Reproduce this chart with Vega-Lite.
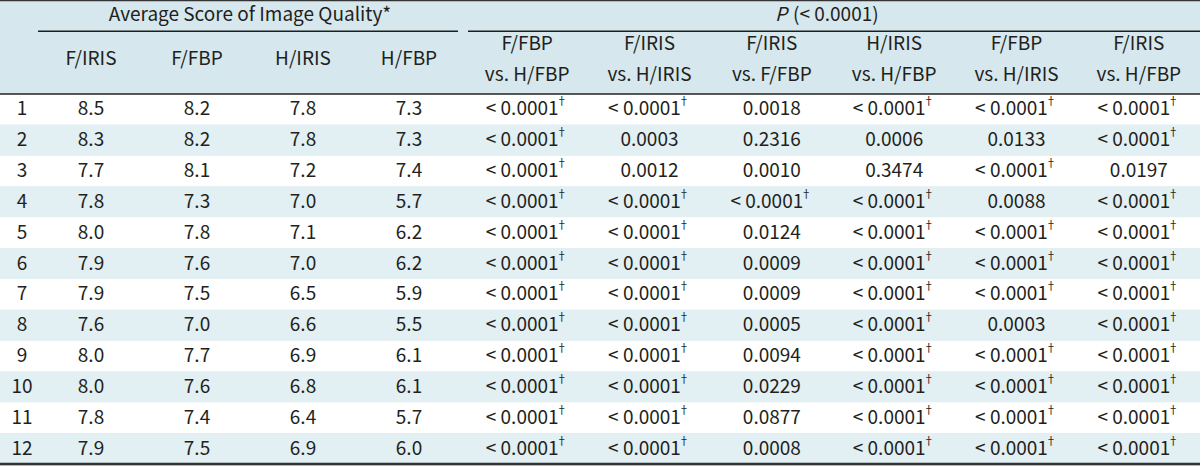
{
  "$schema": "https://vega.github.io/schema/vega-lite/v6.json",
  "width": 1200,
  "height": 466,
  "padding": 0,
  "autosize": {"type": "none"},
  "background": "#d6e8ee",
  "config": {
    "view": {"stroke": null},
    "axis": {"disable": true},
    "legend": {"disable": true},
    "text": {"font": "Noto Sans CJK KR", "fontSize": 19, "color": "#231f20", "baseline": "middle"}
  },
  "datasets": {
    "rows": [
      {"row": "1", "n": 1, "kind": "row"}, {"row": "2", "n": 2, "kind": "row"}, {"row": "3", "n": 3, "kind": "row"},
      {"row": "4", "n": 4, "kind": "row"}, {"row": "5", "n": 5, "kind": "row"}, {"row": "6", "n": 6, "kind": "row"},
      {"row": "7", "n": 7, "kind": "row"}, {"row": "8", "n": 8, "kind": "row"}, {"row": "9", "n": 9, "kind": "row"},
      {"row": "10", "n": 10, "kind": "row"}, {"row": "11", "n": 11, "kind": "row"}, {"row": "12", "n": 12, "kind": "row"}
    ],
    "scoreHeaders": [
      {"col": "F/IRIS", "line": "1", "block": "score"},
      {"col": "F/FBP", "line": "1", "block": "score"},
      {"col": "H/IRIS", "line": "1", "block": "score"},
      {"col": "H/FBP", "line": "1", "block": "score"}
    ],
    "pHeaders": [
      {"comp": "F/FBP vs. H/FBP", "line": "1", "text": "F/FBP", "block": "p"},
      {"comp": "F/FBP vs. H/FBP", "line": "2", "text": "vs. H/FBP", "block": "p"},
      {"comp": "F/IRIS vs. H/IRIS", "line": "1", "text": "F/IRIS", "block": "p"},
      {"comp": "F/IRIS vs. H/IRIS", "line": "2", "text": "vs. H/IRIS", "block": "p"},
      {"comp": "F/IRIS vs. F/FBP", "line": "1", "text": "F/IRIS", "block": "p"},
      {"comp": "F/IRIS vs. F/FBP", "line": "2", "text": "vs. F/FBP", "block": "p"},
      {"comp": "H/IRIS vs. H/FBP", "line": "1", "text": "H/IRIS", "block": "p"},
      {"comp": "H/IRIS vs. H/FBP", "line": "2", "text": "vs. H/FBP", "block": "p"},
      {"comp": "F/FBP vs. H/IRIS", "line": "1", "text": "F/FBP", "block": "p"},
      {"comp": "F/FBP vs. H/IRIS", "line": "2", "text": "vs. H/IRIS", "block": "p"},
      {"comp": "F/IRIS vs. H/FBP", "line": "1", "text": "F/IRIS", "block": "p"},
      {"comp": "F/IRIS vs. H/FBP", "line": "2", "text": "vs. H/FBP", "block": "p"}
    ],
    "groups": [
      {"block": "score", "title": "Average Score of Image Quality*", "sym": "", "anchor": "H/IRIS", "line": "0"},
      {"block": "p", "title": "(< 0.0001)", "sym": "P", "anchor": "H/IRIS vs. H/FBP", "line": "0"}
    ],
    "scores": [
      {"row": "1", "col": "F/IRIS", "v": 8.5}, {"row": "1", "col": "F/FBP", "v": 8.2}, {"row": "1", "col": "H/IRIS", "v": 7.8}, {"row": "1", "col": "H/FBP", "v": 7.3},
      {"row": "2", "col": "F/IRIS", "v": 8.3}, {"row": "2", "col": "F/FBP", "v": 8.2}, {"row": "2", "col": "H/IRIS", "v": 7.8}, {"row": "2", "col": "H/FBP", "v": 7.3},
      {"row": "3", "col": "F/IRIS", "v": 7.7}, {"row": "3", "col": "F/FBP", "v": 8.1}, {"row": "3", "col": "H/IRIS", "v": 7.2}, {"row": "3", "col": "H/FBP", "v": 7.4},
      {"row": "4", "col": "F/IRIS", "v": 7.8}, {"row": "4", "col": "F/FBP", "v": 7.3}, {"row": "4", "col": "H/IRIS", "v": 7.0}, {"row": "4", "col": "H/FBP", "v": 5.7},
      {"row": "5", "col": "F/IRIS", "v": 8.0}, {"row": "5", "col": "F/FBP", "v": 7.8}, {"row": "5", "col": "H/IRIS", "v": 7.1}, {"row": "5", "col": "H/FBP", "v": 6.2},
      {"row": "6", "col": "F/IRIS", "v": 7.9}, {"row": "6", "col": "F/FBP", "v": 7.6}, {"row": "6", "col": "H/IRIS", "v": 7.0}, {"row": "6", "col": "H/FBP", "v": 6.2},
      {"row": "7", "col": "F/IRIS", "v": 7.9}, {"row": "7", "col": "F/FBP", "v": 7.5}, {"row": "7", "col": "H/IRIS", "v": 6.5}, {"row": "7", "col": "H/FBP", "v": 5.9},
      {"row": "8", "col": "F/IRIS", "v": 7.6}, {"row": "8", "col": "F/FBP", "v": 7.0}, {"row": "8", "col": "H/IRIS", "v": 6.6}, {"row": "8", "col": "H/FBP", "v": 5.5},
      {"row": "9", "col": "F/IRIS", "v": 8.0}, {"row": "9", "col": "F/FBP", "v": 7.7}, {"row": "9", "col": "H/IRIS", "v": 6.9}, {"row": "9", "col": "H/FBP", "v": 6.1},
      {"row": "10", "col": "F/IRIS", "v": 8.0}, {"row": "10", "col": "F/FBP", "v": 7.6}, {"row": "10", "col": "H/IRIS", "v": 6.8}, {"row": "10", "col": "H/FBP", "v": 6.1},
      {"row": "11", "col": "F/IRIS", "v": 7.8}, {"row": "11", "col": "F/FBP", "v": 7.4}, {"row": "11", "col": "H/IRIS", "v": 6.4}, {"row": "11", "col": "H/FBP", "v": 5.7},
      {"row": "12", "col": "F/IRIS", "v": 7.9}, {"row": "12", "col": "F/FBP", "v": 7.5}, {"row": "12", "col": "H/IRIS", "v": 6.9}, {"row": "12", "col": "H/FBP", "v": 6.0}
    ],
    "pvals": [
      {"row": "1", "comp": "F/FBP vs. H/FBP", "p": "< 0.0001", "sig": true},
      {"row": "1", "comp": "F/IRIS vs. H/IRIS", "p": "< 0.0001", "sig": true},
      {"row": "1", "comp": "F/IRIS vs. F/FBP", "p": "0.0018", "sig": false},
      {"row": "1", "comp": "H/IRIS vs. H/FBP", "p": "< 0.0001", "sig": true},
      {"row": "1", "comp": "F/FBP vs. H/IRIS", "p": "< 0.0001", "sig": true},
      {"row": "1", "comp": "F/IRIS vs. H/FBP", "p": "< 0.0001", "sig": true},
      {"row": "2", "comp": "F/FBP vs. H/FBP", "p": "< 0.0001", "sig": true},
      {"row": "2", "comp": "F/IRIS vs. H/IRIS", "p": "0.0003", "sig": false},
      {"row": "2", "comp": "F/IRIS vs. F/FBP", "p": "0.2316", "sig": false},
      {"row": "2", "comp": "H/IRIS vs. H/FBP", "p": "0.0006", "sig": false},
      {"row": "2", "comp": "F/FBP vs. H/IRIS", "p": "0.0133", "sig": false},
      {"row": "2", "comp": "F/IRIS vs. H/FBP", "p": "< 0.0001", "sig": true},
      {"row": "3", "comp": "F/FBP vs. H/FBP", "p": "< 0.0001", "sig": true},
      {"row": "3", "comp": "F/IRIS vs. H/IRIS", "p": "0.0012", "sig": false},
      {"row": "3", "comp": "F/IRIS vs. F/FBP", "p": "0.0010", "sig": false},
      {"row": "3", "comp": "H/IRIS vs. H/FBP", "p": "0.3474", "sig": false},
      {"row": "3", "comp": "F/FBP vs. H/IRIS", "p": "< 0.0001", "sig": true},
      {"row": "3", "comp": "F/IRIS vs. H/FBP", "p": "0.0197", "sig": false},
      {"row": "4", "comp": "F/FBP vs. H/FBP", "p": "< 0.0001", "sig": true},
      {"row": "4", "comp": "F/IRIS vs. H/IRIS", "p": "< 0.0001", "sig": true},
      {"row": "4", "comp": "F/IRIS vs. F/FBP", "p": "< 0.0001", "sig": true},
      {"row": "4", "comp": "H/IRIS vs. H/FBP", "p": "< 0.0001", "sig": true},
      {"row": "4", "comp": "F/FBP vs. H/IRIS", "p": "0.0088", "sig": false},
      {"row": "4", "comp": "F/IRIS vs. H/FBP", "p": "< 0.0001", "sig": true},
      {"row": "5", "comp": "F/FBP vs. H/FBP", "p": "< 0.0001", "sig": true},
      {"row": "5", "comp": "F/IRIS vs. H/IRIS", "p": "< 0.0001", "sig": true},
      {"row": "5", "comp": "F/IRIS vs. F/FBP", "p": "0.0124", "sig": false},
      {"row": "5", "comp": "H/IRIS vs. H/FBP", "p": "< 0.0001", "sig": true},
      {"row": "5", "comp": "F/FBP vs. H/IRIS", "p": "< 0.0001", "sig": true},
      {"row": "5", "comp": "F/IRIS vs. H/FBP", "p": "< 0.0001", "sig": true},
      {"row": "6", "comp": "F/FBP vs. H/FBP", "p": "< 0.0001", "sig": true},
      {"row": "6", "comp": "F/IRIS vs. H/IRIS", "p": "< 0.0001", "sig": true},
      {"row": "6", "comp": "F/IRIS vs. F/FBP", "p": "0.0009", "sig": false},
      {"row": "6", "comp": "H/IRIS vs. H/FBP", "p": "< 0.0001", "sig": true},
      {"row": "6", "comp": "F/FBP vs. H/IRIS", "p": "< 0.0001", "sig": true},
      {"row": "6", "comp": "F/IRIS vs. H/FBP", "p": "< 0.0001", "sig": true},
      {"row": "7", "comp": "F/FBP vs. H/FBP", "p": "< 0.0001", "sig": true},
      {"row": "7", "comp": "F/IRIS vs. H/IRIS", "p": "< 0.0001", "sig": true},
      {"row": "7", "comp": "F/IRIS vs. F/FBP", "p": "0.0009", "sig": false},
      {"row": "7", "comp": "H/IRIS vs. H/FBP", "p": "< 0.0001", "sig": true},
      {"row": "7", "comp": "F/FBP vs. H/IRIS", "p": "< 0.0001", "sig": true},
      {"row": "7", "comp": "F/IRIS vs. H/FBP", "p": "< 0.0001", "sig": true},
      {"row": "8", "comp": "F/FBP vs. H/FBP", "p": "< 0.0001", "sig": true},
      {"row": "8", "comp": "F/IRIS vs. H/IRIS", "p": "< 0.0001", "sig": true},
      {"row": "8", "comp": "F/IRIS vs. F/FBP", "p": "0.0005", "sig": false},
      {"row": "8", "comp": "H/IRIS vs. H/FBP", "p": "< 0.0001", "sig": true},
      {"row": "8", "comp": "F/FBP vs. H/IRIS", "p": "0.0003", "sig": false},
      {"row": "8", "comp": "F/IRIS vs. H/FBP", "p": "< 0.0001", "sig": true},
      {"row": "9", "comp": "F/FBP vs. H/FBP", "p": "< 0.0001", "sig": true},
      {"row": "9", "comp": "F/IRIS vs. H/IRIS", "p": "< 0.0001", "sig": true},
      {"row": "9", "comp": "F/IRIS vs. F/FBP", "p": "0.0094", "sig": false},
      {"row": "9", "comp": "H/IRIS vs. H/FBP", "p": "< 0.0001", "sig": true},
      {"row": "9", "comp": "F/FBP vs. H/IRIS", "p": "< 0.0001", "sig": true},
      {"row": "9", "comp": "F/IRIS vs. H/FBP", "p": "< 0.0001", "sig": true},
      {"row": "10", "comp": "F/FBP vs. H/FBP", "p": "< 0.0001", "sig": true},
      {"row": "10", "comp": "F/IRIS vs. H/IRIS", "p": "< 0.0001", "sig": true},
      {"row": "10", "comp": "F/IRIS vs. F/FBP", "p": "0.0229", "sig": false},
      {"row": "10", "comp": "H/IRIS vs. H/FBP", "p": "< 0.0001", "sig": true},
      {"row": "10", "comp": "F/FBP vs. H/IRIS", "p": "< 0.0001", "sig": true},
      {"row": "10", "comp": "F/IRIS vs. H/FBP", "p": "< 0.0001", "sig": true},
      {"row": "11", "comp": "F/FBP vs. H/FBP", "p": "< 0.0001", "sig": true},
      {"row": "11", "comp": "F/IRIS vs. H/IRIS", "p": "< 0.0001", "sig": true},
      {"row": "11", "comp": "F/IRIS vs. F/FBP", "p": "0.0877", "sig": false},
      {"row": "11", "comp": "H/IRIS vs. H/FBP", "p": "< 0.0001", "sig": true},
      {"row": "11", "comp": "F/FBP vs. H/IRIS", "p": "< 0.0001", "sig": true},
      {"row": "11", "comp": "F/IRIS vs. H/FBP", "p": "< 0.0001", "sig": true},
      {"row": "12", "comp": "F/FBP vs. H/FBP", "p": "< 0.0001", "sig": true},
      {"row": "12", "comp": "F/IRIS vs. H/IRIS", "p": "< 0.0001", "sig": true},
      {"row": "12", "comp": "F/IRIS vs. F/FBP", "p": "0.0008", "sig": false},
      {"row": "12", "comp": "H/IRIS vs. H/FBP", "p": "< 0.0001", "sig": true},
      {"row": "12", "comp": "F/FBP vs. H/IRIS", "p": "< 0.0001", "sig": true},
      {"row": "12", "comp": "F/IRIS vs. H/FBP", "p": "< 0.0001", "sig": true}
    ]
  },
  "resolve": {"scale": {"x": "independent", "y": "independent"}},
  "layer": [
    {
      "data": {"name": "rows"},
      "mark": {"type": "rect"},
      "encoding": {
        "y": {"field": "row", "type": "nominal", "scale": {"type": "band", "domain": ["1","2","3","4","5","6","7","8","9","10","11","12"], "range": [94, 464], "paddingInner": 0, "paddingOuter": 0}},
        "fill": {"condition": {"test": "datum.n % 2 === 0", "value": "#e2eff3"}, "value": "#ffffff"}
      }
    },
    {
      "data": {"name": "rows"},
      "mark": {"type": "text", "align": "center"},
      "encoding": {
        "x": {"field": "kind", "type": "nominal", "scale": {"type": "band", "domain": ["row"], "range": [0, 44], "paddingInner": 0, "paddingOuter": 0}},
        "y": {"field": "row", "type": "nominal", "scale": {"type": "band", "domain": ["1","2","3","4","5","6","7","8","9","10","11","12"], "range": [94, 464], "paddingInner": 0, "paddingOuter": 0}},
        "text": {"field": "row"}
      }
    },
    {
      "data": {"name": "scoreHeaders"},
      "mark": {"type": "text", "align": "center"},
      "encoding": {
        "x": {"field": "col", "type": "nominal", "scale": {"type": "band", "domain": ["F/IRIS","F/FBP","H/IRIS","H/FBP"], "range": [38, 462], "paddingInner": 0, "paddingOuter": 0}},
        "y": {"field": "line", "type": "nominal", "bandPosition": 1, "scale": {"type": "band", "domain": ["0","1","2"], "range": [-2, 90], "paddingInner": 0, "paddingOuter": 0}},
        "text": {"field": "col"}
      }
    },
    {
      "data": {"name": "pHeaders"},
      "mark": {"type": "text", "align": "center"},
      "encoding": {
        "x": {"field": "comp", "type": "nominal", "scale": {"type": "band", "domain": ["F/FBP vs. H/FBP","F/IRIS vs. H/IRIS","F/IRIS vs. F/FBP","H/IRIS vs. H/FBP","F/FBP vs. H/IRIS","F/IRIS vs. H/FBP"], "range": [466, 1200], "paddingInner": 0, "paddingOuter": 0}},
        "y": {"field": "line", "type": "nominal", "scale": {"type": "band", "domain": ["0","1","2"], "range": [-2, 90], "paddingInner": 0, "paddingOuter": 0}},
        "text": {"field": "text"}
      }
    },
    {
      "data": {"name": "groups"},
      "transform": [{"filter": "datum.block === 'score'"}],
      "mark": {"type": "text", "align": "center", "dy": 2},
      "encoding": {
        "x": {"field": "anchor", "type": "nominal", "bandPosition": 0, "scale": {"type": "band", "domain": ["F/IRIS","F/FBP","H/IRIS","H/FBP"], "range": [38, 462], "paddingInner": 0, "paddingOuter": 0}},
        "y": {"field": "line", "type": "nominal", "scale": {"type": "band", "domain": ["0","1","2"], "range": [-2, 90], "paddingInner": 0, "paddingOuter": 0}},
        "text": {"field": "title"}
      }
    },
    {
      "data": {"name": "groups"},
      "transform": [{"filter": "datum.block === 'p'"}],
      "mark": {"type": "text", "align": "right", "fontStyle": "italic", "dx": -46, "dy": 2},
      "encoding": {
        "x": {"field": "anchor", "type": "nominal", "bandPosition": 0, "scale": {"type": "band", "domain": ["F/FBP vs. H/FBP","F/IRIS vs. H/IRIS","F/IRIS vs. F/FBP","H/IRIS vs. H/FBP","F/FBP vs. H/IRIS","F/IRIS vs. H/FBP"], "range": [466, 1200], "paddingInner": 0, "paddingOuter": 0}},
        "y": {"field": "line", "type": "nominal", "scale": {"type": "band", "domain": ["0","1","2"], "range": [-2, 90], "paddingInner": 0, "paddingOuter": 0}},
        "text": {"field": "sym"}
      }
    },
    {
      "data": {"name": "groups"},
      "transform": [{"filter": "datum.block === 'p'"}],
      "mark": {"type": "text", "align": "left", "dx": -40, "dy": 2},
      "encoding": {
        "x": {"field": "anchor", "type": "nominal", "bandPosition": 0, "scale": {"type": "band", "domain": ["F/FBP vs. H/FBP","F/IRIS vs. H/IRIS","F/IRIS vs. F/FBP","H/IRIS vs. H/FBP","F/FBP vs. H/IRIS","F/IRIS vs. H/FBP"], "range": [466, 1200], "paddingInner": 0, "paddingOuter": 0}},
        "y": {"field": "line", "type": "nominal", "scale": {"type": "band", "domain": ["0","1","2"], "range": [-2, 90], "paddingInner": 0, "paddingOuter": 0}},
        "text": {"field": "title"}
      }
    },
    {
      "data": {"name": "scores"},
      "mark": {"type": "text", "align": "center"},
      "encoding": {
        "x": {"field": "col", "type": "nominal", "scale": {"type": "band", "domain": ["F/IRIS","F/FBP","H/IRIS","H/FBP"], "range": [38, 462], "paddingInner": 0, "paddingOuter": 0}},
        "y": {"field": "row", "type": "nominal", "scale": {"type": "band", "domain": ["1","2","3","4","5","6","7","8","9","10","11","12"], "range": [94, 464], "paddingInner": 0, "paddingOuter": 0}},
        "text": {"field": "v", "type": "quantitative", "format": ".1f"}
      }
    },
    {
      "data": {"name": "pvals"},
      "transform": [{"filter": "!datum.sig"}],
      "mark": {"type": "text", "align": "center"},
      "encoding": {
        "x": {"field": "comp", "type": "nominal", "scale": {"type": "band", "domain": ["F/FBP vs. H/FBP","F/IRIS vs. H/IRIS","F/IRIS vs. F/FBP","H/IRIS vs. H/FBP","F/FBP vs. H/IRIS","F/IRIS vs. H/FBP"], "range": [466, 1200], "paddingInner": 0, "paddingOuter": 0}},
        "y": {"field": "row", "type": "nominal", "scale": {"type": "band", "domain": ["1","2","3","4","5","6","7","8","9","10","11","12"], "range": [94, 464], "paddingInner": 0, "paddingOuter": 0}},
        "text": {"field": "p"}
      }
    },
    {
      "data": {"name": "pvals"},
      "transform": [{"filter": "datum.sig"}],
      "mark": {"type": "text", "align": "center", "dx": -5},
      "encoding": {
        "x": {"field": "comp", "type": "nominal", "scale": {"type": "band", "domain": ["F/FBP vs. H/FBP","F/IRIS vs. H/IRIS","F/IRIS vs. F/FBP","H/IRIS vs. H/FBP","F/FBP vs. H/IRIS","F/IRIS vs. H/FBP"], "range": [466, 1200], "paddingInner": 0, "paddingOuter": 0}},
        "y": {"field": "row", "type": "nominal", "scale": {"type": "band", "domain": ["1","2","3","4","5","6","7","8","9","10","11","12"], "range": [94, 464], "paddingInner": 0, "paddingOuter": 0}},
        "text": {"field": "p"}
      }
    },
    {
      "data": {"name": "pvals"},
      "transform": [{"filter": "datum.sig"}],
      "mark": {"type": "text", "align": "left", "dx": 29, "dy": -7, "fontSize": 11, "text": "†"},
      "encoding": {
        "x": {"field": "comp", "type": "nominal", "scale": {"type": "band", "domain": ["F/FBP vs. H/FBP","F/IRIS vs. H/IRIS","F/IRIS vs. F/FBP","H/IRIS vs. H/FBP","F/FBP vs. H/IRIS","F/IRIS vs. H/FBP"], "range": [466, 1200], "paddingInner": 0, "paddingOuter": 0}},
        "y": {"field": "row", "type": "nominal", "scale": {"type": "band", "domain": ["1","2","3","4","5","6","7","8","9","10","11","12"], "range": [94, 464], "paddingInner": 0, "paddingOuter": 0}}
      }
    },
    {
      "data": {"name": "scoreHeaders"},
      "mark": {"type": "rect", "fill": "#1e1e1e"},
      "encoding": {
        "x": {"field": "col", "type": "nominal", "scale": {"type": "band", "domain": ["F/IRIS","F/FBP","H/IRIS","H/FBP"], "range": [38, 458], "paddingInner": 0, "paddingOuter": 0}},
        "y": {"field": "block", "type": "nominal", "scale": {"type": "band", "domain": ["score"], "range": [30.5, 32], "paddingInner": 0, "paddingOuter": 0}}
      }
    },
    {
      "data": {"name": "pHeaders"},
      "transform": [{"filter": "datum.line === '1'"}],
      "mark": {"type": "rect", "fill": "#1e1e1e"},
      "encoding": {
        "x": {"field": "comp", "type": "nominal", "scale": {"type": "band", "domain": ["F/FBP vs. H/FBP","F/IRIS vs. H/IRIS","F/IRIS vs. F/FBP","H/IRIS vs. H/FBP","F/FBP vs. H/IRIS","F/IRIS vs. H/FBP"], "range": [468, 1200], "paddingInner": 0, "paddingOuter": 0}},
        "y": {"field": "block", "type": "nominal", "scale": {"type": "band", "domain": ["p"], "range": [30.5, 32], "paddingInner": 0, "paddingOuter": 0}}
      }
    },
    {
      "data": {"name": "groups"},
      "transform": [{"filter": "datum.block === 'score'"}],
      "mark": {"type": "rule", "stroke": "#333333", "strokeWidth": 2.5},
      "encoding": {
        "y": {"field": "line", "type": "nominal", "bandPosition": 0, "scale": {"type": "band", "domain": ["0","1","2"], "range": [0, 94], "paddingInner": 0, "paddingOuter": 0}}
      }
    },
    {
      "data": {"name": "rows"},
      "transform": [{"filter": "datum.n === 1"}],
      "mark": {"type": "rule", "stroke": "#222222", "strokeWidth": 1.5},
      "encoding": {
        "y": {"field": "row", "type": "nominal", "bandPosition": 0, "scale": {"type": "band", "domain": ["1","2","3","4","5","6","7","8","9","10","11","12"], "range": [94, 464], "paddingInner": 0, "paddingOuter": 0}}
      }
    },
    {
      "data": {"name": "rows"},
      "transform": [{"filter": "datum.n === 12"}],
      "mark": {"type": "rule", "stroke": "#333333", "strokeWidth": 2.5},
      "encoding": {
        "y": {"field": "row", "type": "nominal", "bandPosition": 1, "scale": {"type": "band", "domain": ["1","2","3","4","5","6","7","8","9","10","11","12"], "range": [94, 464], "paddingInner": 0, "paddingOuter": 0}}
      }
    }
  ]
}
